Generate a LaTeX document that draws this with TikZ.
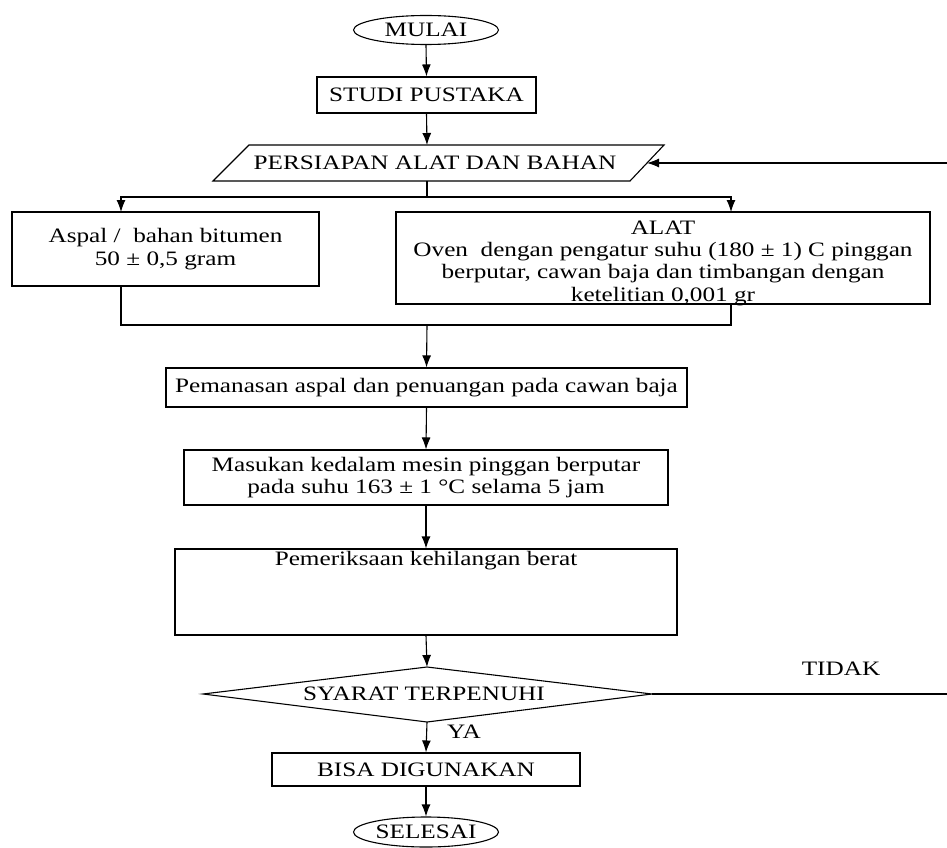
\documentclass[tikz,border=0pt]{standalone}
\usepackage{fontspec}
\setmainfont{Liberation Serif}[FakeStretch=1.23]
\usetikzlibrary{shapes.geometric,arrows.meta}
\begin{document}
\begin{tikzpicture}[x=1pt,y=-1pt,
  every node/.style={font=\fontsize{20.5}{22.3}\selectfont, inner sep=0pt},
  box/.style={draw, line width=1.1pt, rectangle, align=center},
  term/.style={draw, line width=1.1pt, ellipse, minimum width=145pt, minimum height=29pt},
  conn/.style={line width=1.1pt},
  arr/.style={conn, -{Latex[length=12pt,width=9pt]}}]
\useasboundingbox (0,0) rectangle (947,848);

% nodes
\node[term] (mulai) at (426,30) {MULAI};
\node[box, minimum width=219pt, minimum height=36pt] (studi) at (426.5,95) {STUDI PUSTAKA};
\draw[line width=1.1pt] (213,181) -- (249,145) -- (664,145) -- (630,181) -- cycle;
\node (para) at (435,163) {PERSIAPAN ALAT DAN BAHAN};
\coordinate (paraT) at (427,145);
\coordinate (paraB) at (427,181);
\coordinate (paraR) at (647,163);

\node[box, minimum width=307pt, minimum height=74pt] (aspal) at (165.5,249)
  {Aspal / \ bahan bitumen\\50 ± 0,5 gram};
\node[box, minimum width=534pt, minimum height=92pt,
  label={[align=center, anchor=center, yshift=-5pt]center:ALAT\\Oven \ dengan pengatur suhu (180 ± 1) C pinggan\\berputar, cawan baja dan timbangan dengan\\ketelitian 0,001 gr}] (alat) at (663,258) {};

\node[box, minimum width=521pt, minimum height=39pt] (panas) at (426.5,387.5)
  {Pemanasan aspal dan penuangan pada cawan baja};
\node[box, minimum width=484pt, minimum height=55pt] (masuk) at (426,477.5)
  {Masukan kedalam mesin pinggan berputar\\pada suhu 163 ± 1 °C selama 5 jam};
\node[box, minimum width=502pt, minimum height=86pt,
  label={[anchor=north, yshift=-3pt]north:Pemeriksaan kehilangan berat}] (periksa) at (426,592) {};

\coordinate (dTop) at (427,667);
\coordinate (dBot) at (427,722);
\coordinate (dLeft) at (203,694);
\coordinate (dRight) at (652,694);
\draw[line width=1.1pt] (dTop) -- (dRight) -- (dBot) -- (dLeft) -- cycle;
\node (syarat) at (424,694) {SYARAT TERPENUHI};

\node[box, minimum width=308pt, minimum height=33pt] (bisa) at (426,769.5) {BISA DIGUNAKAN};
\node[term, minimum height=30pt] (selesai) at (426,832) {SELESAI};

\node (tidak) at (841,669) {TIDAK};
\node (ya) at (464,732) {YA};

% connectors
\coordinate (split) at (427,197);
\coordinate (aspalIn) at (121,212);
\coordinate (alatIn) at (731,212);
\coordinate (aspalOut) at (121,286);
\coordinate (alatOut) at (731,304);
\coordinate (merge) at (427,325);
\coordinate (loopB) at (965,694);
\coordinate (loopT) at (965,163);

\draw[arr] (mulai.south) -- (studi.north);
\draw[arr] (studi.south) -- (paraT);
\draw[conn] (paraB) -- (split);
\draw[arr] (split) -| (aspalIn);
\draw[arr] (split) -| (alatIn);
\draw[conn] (aspalOut) |- (merge);
\draw[conn] (alatOut) |- (merge);
\draw[arr] (merge) -- (panas.north);
\draw[arr] (panas.south) -- (masuk.north);
\draw[arr] (masuk.south) -- (periksa.north);
\draw[arr] (periksa.south) -- (dTop);
\draw[arr] (dBot) -- (bisa.north);
\draw[arr] (bisa.south) -- (selesai.north);
\draw[arr] (dRight) -- (loopB) -- (loopT) -- (paraR);
\end{tikzpicture}
\end{document}
